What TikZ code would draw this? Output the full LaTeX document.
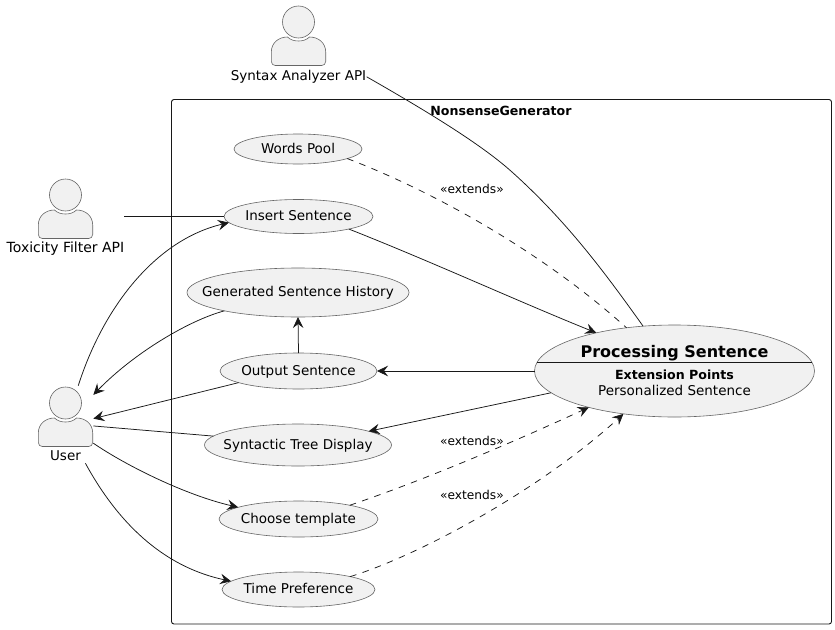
\documentclass[tikz,border=0pt]{standalone}
\usepackage{fontspec}
\setmainfont{DejaVu Sans}
\usetikzlibrary{arrows.meta,shapes.geometric}
\definecolor{ink}{HTML}{181818}
\definecolor{edge}{HTML}{666666}
\definecolor{fillgray}{HTML}{F1F1F1}
\newcommand{\actorfig}[2]{%
  \draw[actorshape] (#1,#2) circle[radius=16];
  \draw[actorshape] (#1-27.2,#2+39.5)
    .. controls (#1-27.2,#2+42) and (#1-25.2,#2+43.5) .. (#1-23.2,#2+43.5)
    -- (#1+23.2,#2+43.5)
    .. controls (#1+25.2,#2+43.5) and (#1+27.2,#2+42) .. (#1+27.2,#2+39.5)
    -- (#1+27.2,#2+30)
    .. controls (#1+27.2,#2+21) and (#1+20,#2+15) .. (#1+11,#2+15)
    .. controls (#1+8,#2+18) and (#1+4,#2+19) .. (#1,#2+19)
    .. controls (#1-4,#2+19) and (#1-8,#2+18) .. (#1-11,#2+15)
    .. controls (#1-20,#2+15) and (#1-27.2,#2+21) .. (#1-27.2,#2+30)
    -- cycle;}
\tikzset{
  x=1pt,y=-1pt,
  every node/.style={font=\fontsize{13.5}{16}\selectfont,text=black},
  actorshape/.style={draw=edge,line width=0.6pt,fill=fillgray},
  actorbox/.style={rectangle,inner sep=0pt,outer sep=0pt},
  usecase/.style={ellipse,draw=edge,line width=0.6pt,fill=fillgray,inner sep=0pt,outer sep=0pt},
  uclabel/.style={label={[text height=8.6pt,text depth=0pt]center:#1}},
  conn/.style={draw=ink,line width=0.75pt},
  arr/.style={conn,-{Stealth[length=11pt,width=10.5pt,inset=4pt,color=ink]}},
  ext/.style={conn,dash pattern=on 6.5pt off 6.5pt},
  extarr/.style={ext,-{Stealth[length=11pt,width=10.5pt,inset=4pt,color=ink]}},
  steretype/.style={anchor=base,font=\fontsize{12.2}{14}\selectfont},
}
\begin{document}
\begin{tikzpicture}
\useasboundingbox (0,0) rectangle (835,629);
\fill[white] (0,0) rectangle (835,629);
% system boundary
\draw[ink,line width=0.9pt,rounded corners=2.5pt] (171.5,99.5) rectangle (831.5,624);
\node[anchor=base,font=\bfseries\fontsize{12.6}{16}\selectfont] (title) at (501,115) {NonsenseGenerator};
% actors
\actorfig{298.5}{22}
\actorfig{65.5}{195}
\actorfig{65.5}{403}
\node[actorbox,minimum width=135.7pt,minimum height=84pt] (syntax) at (298.85,48) {};
\node[actorbox,minimum width=118pt,minimum height=75pt] (toxic) at (65,216.5) {};
\node[actorbox,minimum width=55.3pt,minimum height=77.6pt] (user) at (65.65,424.5) {};
\node[anchor=base] (syntaxlabel) at (298.5,80) {Syntax Analyzer API};
\node[anchor=base,font=\fontsize{14}{16}\selectfont] (toxiclabel) at (65.5,252.3) {Toxicity Filter API};
\node[anchor=base] (userlabel) at (65.5,460) {User};
% use cases
\node[usecase,minimum width=128pt,minimum height=30pt,uclabel={Words Pool}] (words) at (298,149) {};
\node[usecase,minimum width=149pt,minimum height=34pt,uclabel={Insert Sentence}] (insert) at (298.5,216.5) {};
\node[usecase,minimum width=222pt,minimum height=49pt,uclabel={Generated Sentence History}] (history) at (298,292.5) {};
\node[usecase,minimum width=157pt,minimum height=36pt,uclabel={Output Sentence}] (output) at (298.5,371) {};
\node[usecase,minimum width=187pt,minimum height=42pt,uclabel={Syntactic Tree Display}] (tree) at (298,445) {};
\node[usecase,minimum width=159pt,minimum height=36pt,uclabel={Choose template}] (choose) at (298.5,519) {};
\node[usecase,minimum width=153pt,minimum height=35pt,uclabel={Time Preference}] (timepref) at (298.5,589.5) {};
\node[usecase,minimum width=280pt,minimum height=92pt] (proc) at (674.5,371) {};
\draw[conn] ([xshift=137.5pt,yshift=8.7pt]proc.center) -- ([xshift=-137.5pt,yshift=8.7pt]proc.center);
\node[anchor=base,font=\bfseries\fontsize{16}{20}\selectfont] (proctitle) at (674.5,357.3) {Processing Sentence};
\node[anchor=base,font=\bfseries\fontsize{12.6}{16}\selectfont] (extpoints) at (674.5,379.3) {Extension Points};
\node[anchor=base] (personal) at (674.5,395) {Personalized Sentence};
% connectors
\draw[conn] (syntax.-23.9) .. controls (430,113) and (482,145) .. (512,172) .. controls (570,224) and (610,280) .. (proc.125.7);
\draw[ext] (words.-11.4) .. controls (430,190) and (540,250) .. (proc.138.4);
\draw[arr] (insert.-14.7) .. controls (430,261) and (515,300) .. (proc.154.1);
\draw[conn] (toxic.0) -- (insert.180);
\draw[arr] (user.72.3) .. controls (103,308) and (155,240) .. (insert.185.8);
\draw[arr] (history.194.2) .. controls (190,320) and (135,352) .. (user.47.8);
\draw[arr] (output.90) -- (history.270);
\draw[arr] (proc.180) -- (output.0);
\draw[arr] (output.191.9) -- (user.12.6);
\draw[conn] (user.-3.7) -- (tree.174.9);
\draw[arr] (proc.190.9) -- (tree.11.2);
\draw[arr] (user.-34.2) .. controls (125,465) and (185,495) .. (choose.169.5);
\draw[arr] (user.-63.1) .. controls (112,512) and (155,565) .. (timepref.173.9);
\draw[extarr] (choose.15.8) .. controls (430,478) and (520,439) .. (proc.203.9);
\draw[extarr] (timepref.14.7) .. controls (420,555) and (540,490) .. (proc.220);
% stereotype labels
\node[steretype] (ext1) at (472,193.3) {«extends»};
\node[steretype] (ext2) at (472,445) {«extends»};
\node[steretype] (ext3) at (472,499.3) {«extends»};
\end{tikzpicture}
\end{document}
